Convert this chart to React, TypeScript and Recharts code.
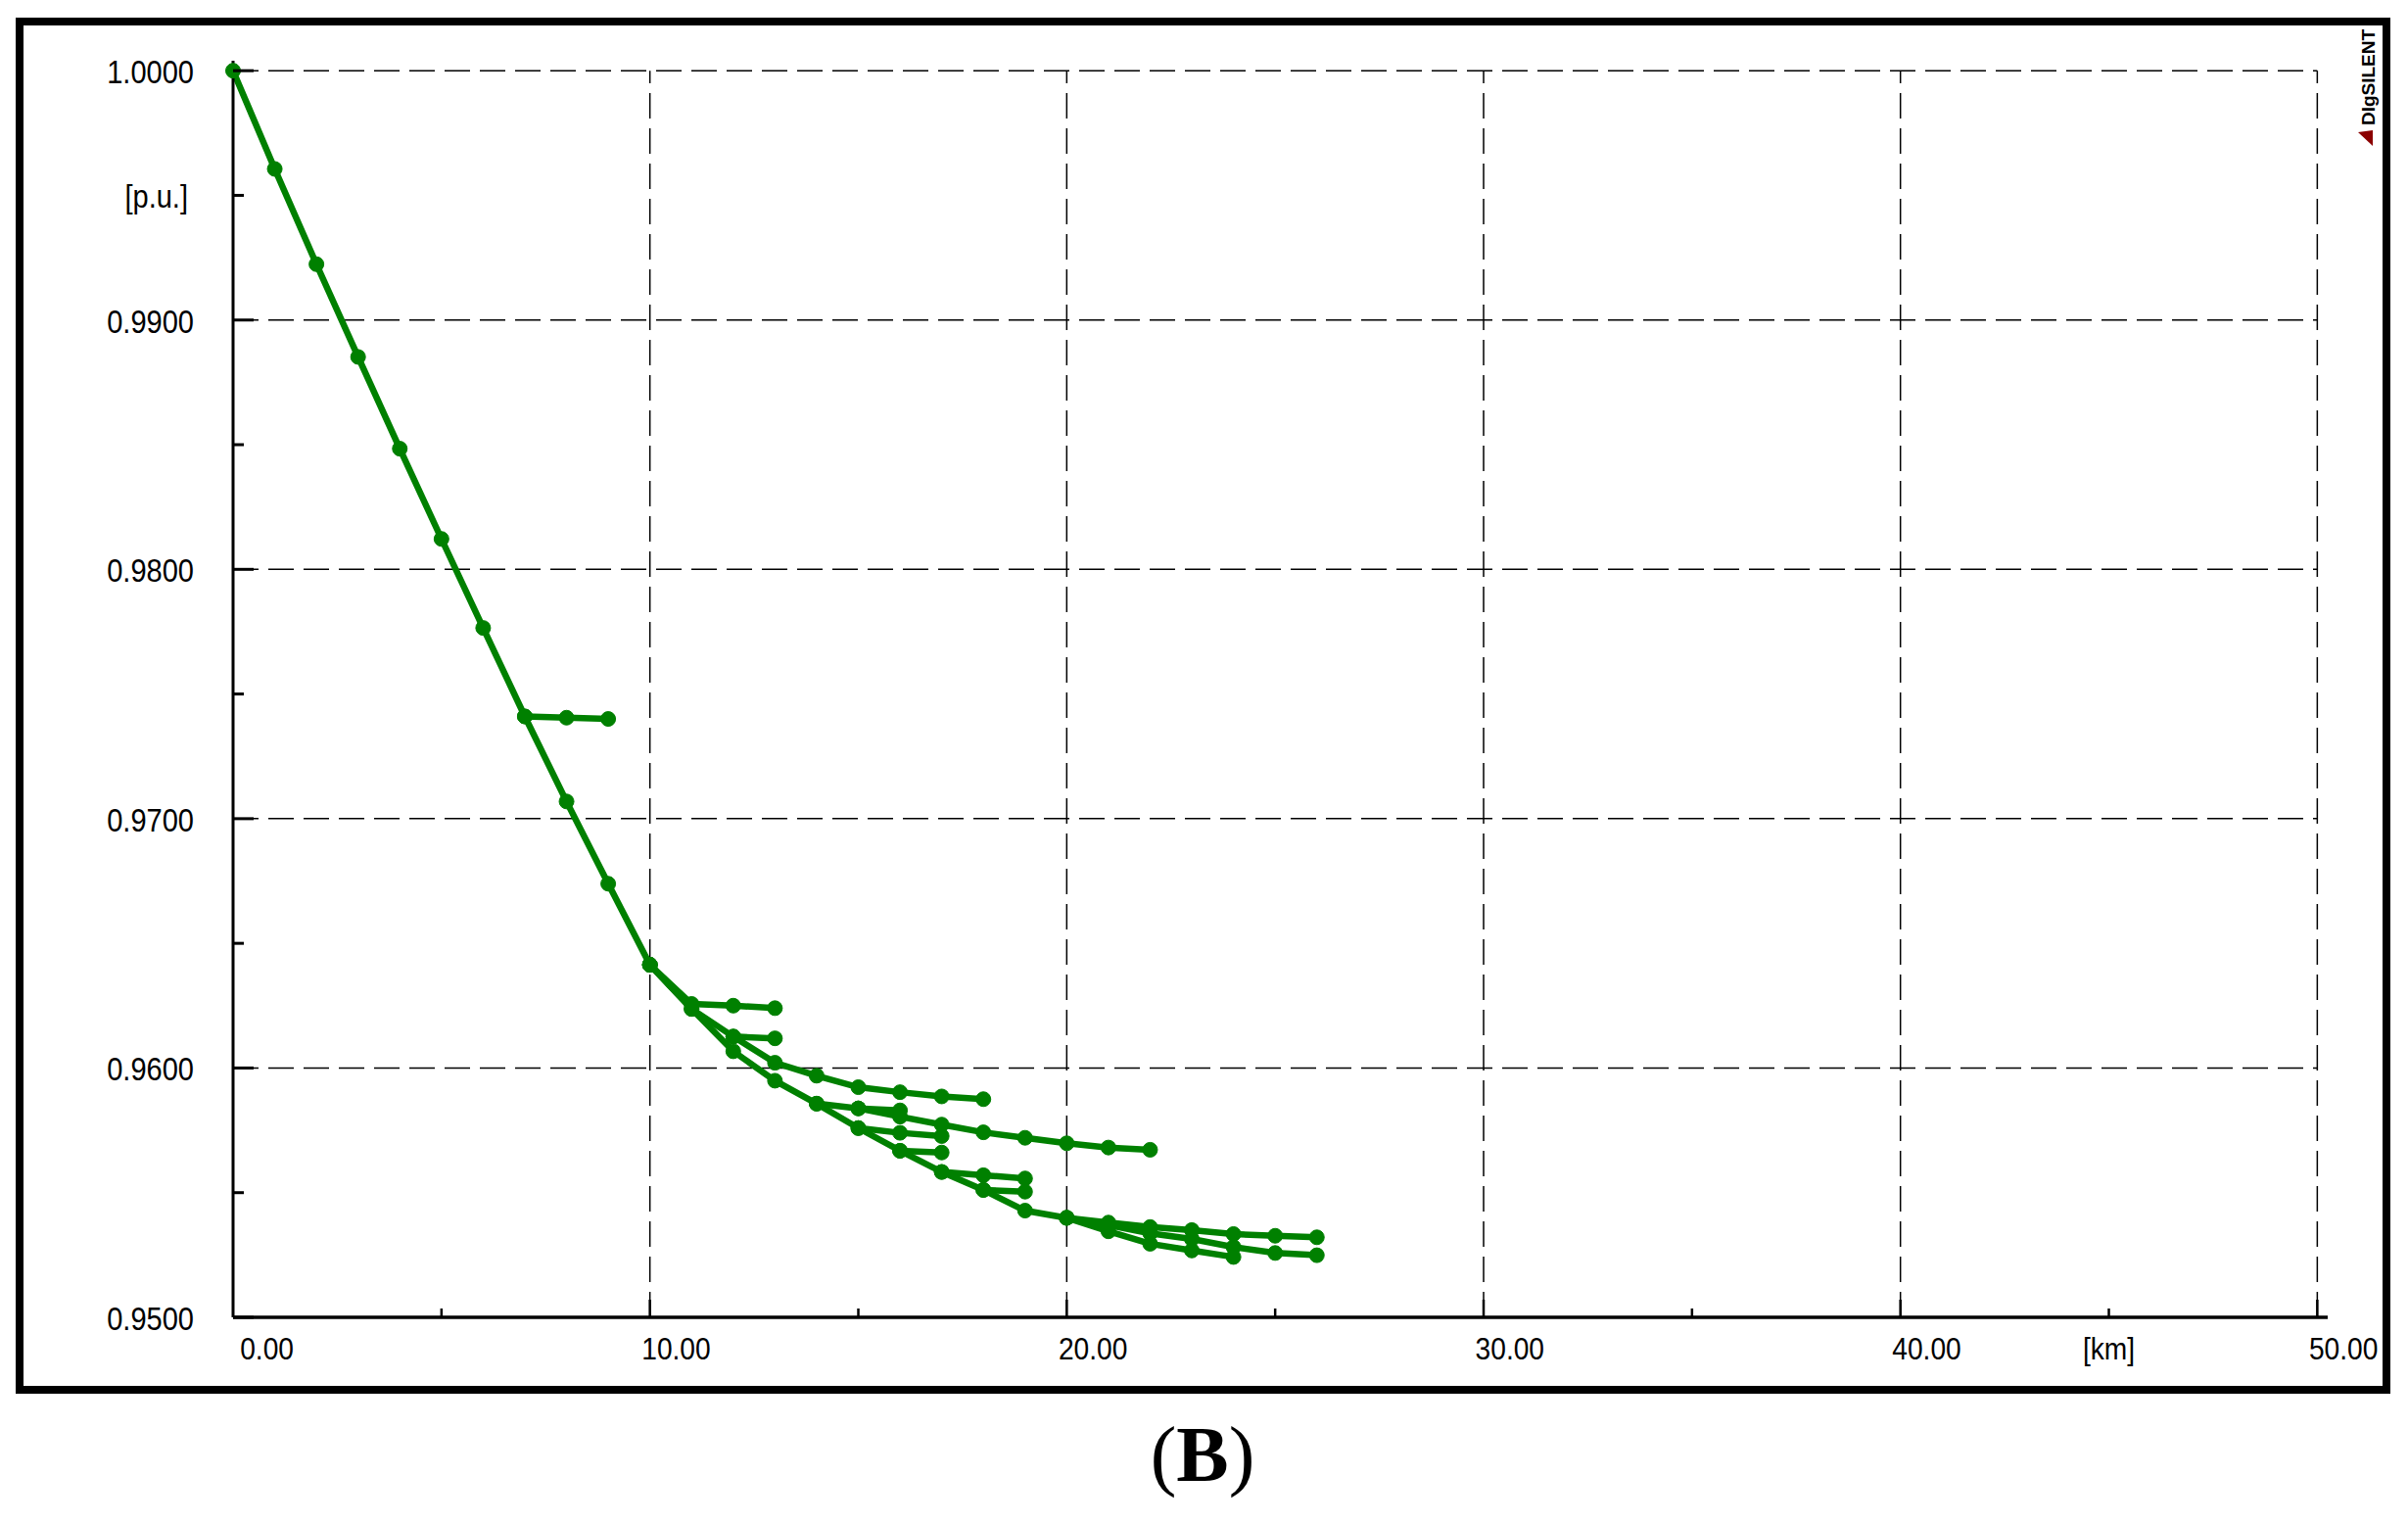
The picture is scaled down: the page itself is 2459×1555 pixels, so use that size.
import { LineChart, Line, XAxis, YAxis, ReferenceLine } from 'recharts';

const GREEN = '#008000';
const FONT = '"Liberation Sans", Arial, sans-serif';

// distance from the slack bus [km] and voltage [p.u.] for every feeder path
const trunkKm = [0, 1, 2, 3, 4, 5, 6, 7, 8, 9, 10];
const trunkPu = [1.0, 0.99606, 0.99224, 0.98852, 0.98484, 0.98122, 0.97765, 0.9741, 0.97069, 0.96739, 0.96414];

const lat7Km = [7, 8, 9];
const lat7Pu = [0.9741, 0.97405, 0.974];

const latAKm = [10, 11, 12, 13];
const latAPu = [0.96414, 0.96257, 0.9625, 0.9624];

const latBKm = [12, 13];
const latBPu = [0.96126, 0.96119];

const midKm = [10, 11, 12, 13, 14, 15, 16, 17, 18];
const midPu = [0.96414, 0.96237, 0.96126, 0.96021, 0.95969, 0.95923, 0.95903, 0.95886, 0.95875];

const mainKm = [10, 11, 12, 13, 14, 15, 16, 17, 18, 19, 20];
const mainPu = [0.96414, 0.96237, 0.96067, 0.95949, 0.95857, 0.95759, 0.95668, 0.95583, 0.95511, 0.95428, 0.95399];

const latDKm = [14, 15, 16, 17, 18, 19, 20, 21, 22];
const latDPu = [0.95857, 0.95838, 0.95805, 0.95773, 0.95742, 0.9572, 0.95698, 0.95681, 0.95672];

const stubDKm = [15, 16];
const stubDPu = [0.95838, 0.9583];

const latEKm = [15, 16, 17];
const latEPu = [0.95759, 0.9574, 0.95727];

const latFKm = [16, 17];
const latFPu = [0.95668, 0.95661];

const latGKm = [17, 18, 19];
const latGPu = [0.95583, 0.9557, 0.95557];

const latHKm = [18, 19];
const latHPu = [0.95511, 0.95504];

const endUKm = [20, 21, 22, 23, 24, 25, 26];
const endUPu = [0.95399, 0.9538, 0.95362, 0.9535, 0.95334, 0.95327, 0.95321];

const endMKm = [20, 21, 22, 23, 24, 25, 26];
const endMPu = [0.95399, 0.9537, 0.95337, 0.95314, 0.95282, 0.95258, 0.95249];

const endLKm = [20, 21, 22, 23, 24];
const endLPu = [0.95399, 0.95345, 0.95295, 0.95268, 0.95242];

const xTicks = [0, 5, 10, 15, 20, 25, 30, 35, 40, 45, 50];
const yTicks = [0.95, 0.955, 0.96, 0.965, 0.97, 0.975, 0.98, 0.985, 0.99, 0.995, 1.0];
const gridKm = [10, 20, 30, 40, 50];
const gridPu = [0.96, 0.97, 0.98, 0.99, 1.0];

const paths: [number[], number[]][] = [
  [trunkKm, trunkPu],
  [lat7Km, lat7Pu],
  [latAKm, latAPu],
  [latBKm, latBPu],
  [midKm, midPu],
  [mainKm, mainPu],
  [latDKm, latDPu],
  [stubDKm, stubDPu],
  [latEKm, latEPu],
  [latFKm, latFPu],
  [latGKm, latGPu],
  [latHKm, latHPu],
  [endUKm, endUPu],
  [endMKm, endMPu],
  [endLKm, endLPu],
];

const series = paths.map(([km, pu]) => km.map((k, i) => ({ km: k, pu: pu[i] })));

const YTick = (props: any) => {
  const { x, y, payload } = props;
  const v = payload.value;
  const major = Math.round(v * 1000) % 10 === 0;
  let label: string | null = null;
  if (major) label = v.toFixed(4);
  else if (Math.abs(v - 0.995) < 1e-6) label = '[p.u.]';
  return (
    <g>
      <line x1={x} x2={x + (major ? 21 : 11)} y1={y} y2={y} stroke="#000" strokeWidth={3} />
      {label && (
        <text
          transform={`translate(${major ? x - 40 : x - 46},${y + 13}) scale(0.88,1)`}
          textAnchor="end"
          fontFamily={FONT}
          fontSize={33}
          fill="#000"
        >
          {label}
        </text>
      )}
    </g>
  );
};

const XTick = (props: any) => {
  const { x, y, payload } = props;
  const v = payload.value;
  const major = v % 10 === 0;
  let label: string | null = null;
  let tx = x + 62;
  let anchor = 'end';
  if (major) label = v.toFixed(2);
  else if (v === 45) {
    label = '[km]';
    tx = x;
    anchor = 'middle';
  }
  return (
    <g>
      {v !== 0 && <line x1={x} x2={x} y1={y} y2={y - (major ? 18 : 9)} stroke="#000" strokeWidth={2.5} />}
      {label && (
        <text
          transform={`translate(${tx},${y + 43}) scale(0.88,1)`}
          textAnchor={anchor as any}
          fontFamily={FONT}
          fontSize={32}
          fill="#000"
        >
          {label}
        </text>
      )}
    </g>
  );
};

export default function App() {
  return (
    <div style={{ position: 'absolute', left: 0, top: 0, width: 2459, height: 1555, background: '#fff' }}>
      <div
        style={{
          position: 'absolute',
          left: 16,
          top: 18,
          width: 2425,
          height: 1405,
          border: '8px solid #000',
          boxSizing: 'border-box',
        }}
      />
      <div style={{ position: 'absolute', left: 0, top: 0 }}>
        <LineChart width={2459} height={1555} margin={{ top: 62, left: 178, right: 82, bottom: 180 }}>
          <XAxis
            type="number"
            dataKey="km"
            domain={[0, 50.25]}
            ticks={xTicks}
            height={30}
            tickSize={0}
            tickMargin={0}
            tick={<XTick />}
            axisLine={{ stroke: '#000', strokeWidth: 3.5 }}
            tickLine={false}
          />
          <YAxis
            type="number"
            dataKey="pu"
            domain={[0.95, 1.0004]}
            ticks={yTicks}
            width={60}
            tickSize={0}
            tickMargin={0}
            tick={<YTick />}
            axisLine={{ stroke: '#000', strokeWidth: 3 }}
            tickLine={false}
          />
          {gridPu.map((v) => (
            <ReferenceLine
              key={`h${v}`}
              segment={[{ x: 0, y: v }, { x: 50, y: v }]}
              stroke="#000"
              strokeWidth={1.5}
              strokeDasharray="26 10"
            />
          ))}
          {gridKm.map((v) => (
            <ReferenceLine
              key={`v${v}`}
              segment={[{ x: v, y: 0.95 }, { x: v, y: 1.0 }]}
              stroke="#000"
              strokeWidth={1.5}
              strokeDasharray="26 10"
            />
          ))}
          {series.map((d, i) => (
            <Line
              key={i}
              data={d}
              dataKey="pu"
              type="linear"
              stroke={GREEN}
              strokeWidth={6.5}
              dot={{ r: 7.5, fill: GREEN, stroke: GREEN, strokeWidth: 1 }}
              activeDot={false}
              isAnimationActive={false}
            />
          ))}
        </LineChart>
      </div>
      <svg width={2459} height={1555} style={{ position: 'absolute', left: 0, top: 0, pointerEvents: 'none' }}>
        <text
          transform="translate(2425,128) rotate(-90)"
          fontFamily={FONT}
          fontWeight="bold"
          fontSize={19}
          textLength={98}
          lengthAdjust="spacingAndGlyphs"
          fill="#000"
        >
          DIgSILENT
        </text>
        <polygon points="2408,135 2423,133 2423,149" fill="#8b0000" />
        <text x={1228} y={1512} textAnchor="middle" fontFamily='"Liberation Serif", "Times New Roman", serif' fontSize={80} fill="#000">
          <tspan>(</tspan>
          <tspan fontWeight="bold">B</tspan>
          <tspan>)</tspan>
        </text>
      </svg>
    </div>
  );
}
